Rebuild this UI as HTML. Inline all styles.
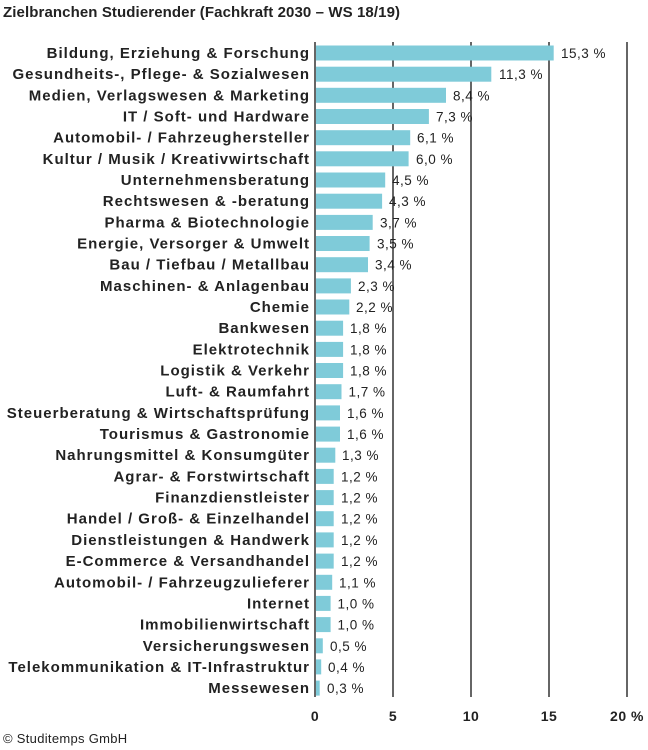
<!DOCTYPE html>
<html><head><meta charset="utf-8"><style>
html,body{margin:0;padding:0;background:#fff;}
svg{display:block;font-family:"Liberation Sans",sans-serif;}
</style></head><body>
<svg width="648" height="750" viewBox="0 0 648 750" xmlns="http://www.w3.org/2000/svg">
<text x="3" y="17" font-size="15" font-weight="bold" fill="#222" letter-spacing="0.1">Zielbranchen Studierender (Fachkraft 2030 – WS 18/19)</text>
<g stroke="#333" stroke-width="1.5">
<line x1="315" y1="42" x2="315" y2="697"/>
<line x1="393" y1="42" x2="393" y2="697"/>
<line x1="471" y1="42" x2="471" y2="697"/>
<line x1="549" y1="42" x2="549" y2="697"/>
<line x1="627" y1="42" x2="627" y2="697"/>
</g>
<g fill="#7fcbd9">
<rect x="316" y="45.5" width="237.7" height="15"/>
<rect x="316" y="66.7" width="175.3" height="15"/>
<rect x="316" y="87.8" width="130" height="15"/>
<rect x="316" y="109" width="112.9" height="15"/>
<rect x="316" y="130.2" width="94.2" height="15"/>
<rect x="316" y="151.3" width="92.6" height="15"/>
<rect x="316" y="172.5" width="69.2" height="15"/>
<rect x="316" y="193.7" width="66.1" height="15"/>
<rect x="316" y="214.9" width="56.7" height="15"/>
<rect x="316" y="236" width="53.6" height="15"/>
<rect x="316" y="257.2" width="52" height="15"/>
<rect x="316" y="278.4" width="34.9" height="15"/>
<rect x="316" y="299.5" width="33.3" height="15"/>
<rect x="316" y="320.7" width="27.1" height="15"/>
<rect x="316" y="341.9" width="27.1" height="15"/>
<rect x="316" y="363" width="27.1" height="15"/>
<rect x="316" y="384.2" width="25.5" height="15"/>
<rect x="316" y="405.4" width="24" height="15"/>
<rect x="316" y="426.6" width="24" height="15"/>
<rect x="316" y="447.7" width="19.3" height="15"/>
<rect x="316" y="468.9" width="17.7" height="15"/>
<rect x="316" y="490.1" width="17.7" height="15"/>
<rect x="316" y="511.2" width="17.7" height="15"/>
<rect x="316" y="532.4" width="17.7" height="15"/>
<rect x="316" y="553.6" width="17.7" height="15"/>
<rect x="316" y="574.8" width="16.2" height="15"/>
<rect x="316" y="595.9" width="14.6" height="15"/>
<rect x="316" y="617.1" width="14.6" height="15"/>
<rect x="316" y="638.3" width="6.8" height="15"/>
<rect x="316" y="659.4" width="5.2" height="15"/>
<rect x="316" y="680.6" width="3.7" height="15"/>
</g>
<g font-size="15" font-weight="bold" fill="#222" text-anchor="end" letter-spacing="1">
<text x="310" y="58">Bildung, Erziehung &amp; Forschung</text>
<text x="310" y="79.2">Gesundheits-, Pflege- &amp; Sozialwesen</text>
<text x="310" y="100.3">Medien, Verlagswesen &amp; Marketing</text>
<text x="310" y="121.5">IT / Soft- und Hardware</text>
<text x="310" y="142.7">Automobil- / Fahrzeughersteller</text>
<text x="310" y="163.8">Kultur / Musik / Kreativwirtschaft</text>
<text x="310" y="185">Unternehmensberatung</text>
<text x="310" y="206.2">Rechtswesen &amp; -beratung</text>
<text x="310" y="227.4">Pharma &amp; Biotechnologie</text>
<text x="310" y="248.5">Energie, Versorger &amp; Umwelt</text>
<text x="310" y="269.7">Bau / Tiefbau / Metallbau</text>
<text x="310" y="290.9">Maschinen- &amp; Anlagenbau</text>
<text x="310" y="312">Chemie</text>
<text x="310" y="333.2">Bankwesen</text>
<text x="310" y="354.4">Elektrotechnik</text>
<text x="310" y="375.5">Logistik &amp; Verkehr</text>
<text x="310" y="396.7">Luft- &amp; Raumfahrt</text>
<text x="310" y="417.9">Steuerberatung &amp; Wirtschaftsprüfung</text>
<text x="310" y="439.1">Tourismus &amp; Gastronomie</text>
<text x="310" y="460.2">Nahrungsmittel &amp; Konsumgüter</text>
<text x="310" y="481.4">Agrar- &amp; Forstwirtschaft</text>
<text x="310" y="502.6">Finanzdienstleister</text>
<text x="310" y="523.7">Handel / Groß- &amp; Einzelhandel</text>
<text x="310" y="544.9">Dienstleistungen &amp; Handwerk</text>
<text x="310" y="566.1">E-Commerce &amp; Versandhandel</text>
<text x="310" y="587.3">Automobil- / Fahrzeugzulieferer</text>
<text x="310" y="608.4">Internet</text>
<text x="310" y="629.6">Immobilienwirtschaft</text>
<text x="310" y="650.8">Versicherungswesen</text>
<text x="310" y="671.9">Telekommunikation &amp; IT-Infrastruktur</text>
<text x="310" y="693.1">Messewesen</text>
</g>
<g font-size="13.5" fill="#222" letter-spacing="0.5">
<text x="561" y="58">15,3 %</text>
<text x="499" y="79.2">11,3 %</text>
<text x="453" y="100.3">8,4 %</text>
<text x="436" y="121.5">7,3 %</text>
<text x="417" y="142.7">6,1 %</text>
<text x="416" y="163.8">6,0 %</text>
<text x="392" y="185">4,5 %</text>
<text x="389" y="206.2">4,3 %</text>
<text x="380" y="227.4">3,7 %</text>
<text x="377" y="248.5">3,5 %</text>
<text x="375" y="269.7">3,4 %</text>
<text x="358" y="290.9">2,3 %</text>
<text x="356" y="312">2,2 %</text>
<text x="350" y="333.2">1,8 %</text>
<text x="350" y="354.4">1,8 %</text>
<text x="350" y="375.5">1,8 %</text>
<text x="348.5" y="396.7">1,7 %</text>
<text x="347" y="417.9">1,6 %</text>
<text x="347" y="439.1">1,6 %</text>
<text x="342" y="460.2">1,3 %</text>
<text x="341" y="481.4">1,2 %</text>
<text x="341" y="502.6">1,2 %</text>
<text x="341" y="523.7">1,2 %</text>
<text x="341" y="544.9">1,2 %</text>
<text x="341" y="566.1">1,2 %</text>
<text x="339" y="587.3">1,1 %</text>
<text x="337.5" y="608.4">1,0 %</text>
<text x="337.5" y="629.6">1,0 %</text>
<text x="330" y="650.8">0,5 %</text>
<text x="328" y="671.9">0,4 %</text>
<text x="327" y="693.1">0,3 %</text>
</g>
<g font-size="14" font-weight="bold" fill="#222" text-anchor="middle" letter-spacing="0.5">
<text x="315" y="721">0</text><text x="393" y="721">5</text><text x="471" y="721">10</text><text x="549" y="721">15</text><text x="627" y="721">20 %</text>
</g>
<text x="3" y="743" font-size="13" fill="#222" letter-spacing="0.3">© Studitemps GmbH</text>
</svg>
</body></html>
